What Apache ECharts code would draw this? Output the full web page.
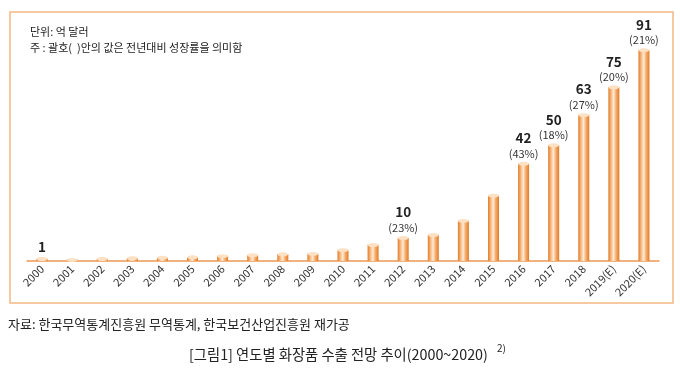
<!DOCTYPE html>
<html><head><meta charset="utf-8">
<script src="https://cdn.jsdelivr.net/npm/echarts@6/dist/echarts.min.js"></script>
<style>html,body{margin:0;padding:0;background:#fff}#c{width:680px;height:375px}</style>
</head><body><div id="c"></div>
<script>
const categories = ['2000','2001','2002','2003','2004','2005','2006','2007','2008','2009','2010','2011','2012','2013','2014','2015','2016','2017','2018','2019(E)','2020(E)'];
const exportValues = [1, 0.6, 1.0, 1.3, 1.5, 1.7, 2.2, 2.6, 3.0, 3.2, 4.8, 7, 10, 11.3, 17.4, 28.3, 42, 50, 63, 75, 91];
const valueLabels = ['1','','','','','','','','','','','','10','','','','42','50','63','75','91'];
const growthLabels = ['','','','','','','','','','','','','(23%)','','','','(43%)','(18%)','(27%)','(20%)','(21%)'];
const unitNote = '단위: 억 달러';
const bracketNote = '주 : 괄호(  )안의 값은 전년대비 성장률을 의미함';
const sourceNote = '자료: 한국무역통계진흥원 무역통계, 한국보건산업진흥원 재가공';
const figTitle = '[그림1] 연도별 화장품 수출 전망 추이(2000~2020)';

const FONT = '"Noto Sans CJK KR", "Noto Sans", sans-serif';
const chart = echarts.init(document.getElementById('c'), null, {renderer:'canvas'});
const barGrad = new echarts.graphic.LinearGradient(0,0,1,0,[
  {offset:0,color:'#E27A25'},{offset:0.3,color:'#F9C493'},{offset:0.48,color:'#FFEBD8'},{offset:0.7,color:'#F5AE6E'},{offset:1,color:'#E27A25'}
]);
chart.setOption({
  animation:false,
  grid:{left:27,right:21,top:29,bottom:114},
  xAxis:{type:'category',data:categories,
    axisLine:{lineStyle:{color:'#EC9A55',width:1.5}},
    axisTick:{show:false},
    axisLabel:{rotate:45,fontSize:11,color:'#333',fontFamily:FONT,margin:6,interval:0}},
  yAxis:{type:'value',min:0,max:100,show:false,splitLine:{show:false}},
  graphic:[
    {type:'rect',shape:{x:10,y:12,width:663,height:291},style:{fill:'none',stroke:'#F3B884',lineWidth:1.5}},
    {type:'text',left:30,top:26,style:{text:unitNote,fontSize:11,fill:'#222',fontFamily:FONT}},
    {type:'text',left:30,top:42,style:{text:bracketNote,fontSize:11,fill:'#222',fontFamily:FONT}},
    {type:'text',left:8,top:318,style:{text:sourceNote,fontSize:13,fill:'#222',fontFamily:FONT}},
    {type:'text',left:189,top:347,style:{text:figTitle,fontSize:14.3,fill:'#222',fontFamily:FONT}},
    {type:'text',left:497,top:343,style:{text:'2)',fontSize:10,fill:'#222',fontFamily:FONT}}
  ],
  series:[
    {type:'bar',data:exportValues,barWidth:11,itemStyle:{color:barGrad},
      label:{show:true,position:'top',distance:3,
        formatter:p=>{const v=valueLabels[p.dataIndex],g=growthLabels[p.dataIndex];
          if(!v) return ''; return g?('{v|'+v+'}\n{p|'+g+'}'):('{v|'+v+'}');},
        rich:{v:{fontSize:13.5,fontWeight:'bold',color:'#222',fontFamily:FONT,lineHeight:17},
              p:{fontSize:11,color:'#333',fontFamily:FONT,lineHeight:14}}}},
    {type:'pictorialBar',data:exportValues,symbol:'circle',symbolSize:[11,4],symbolPosition:'end',
      symbolOffset:[0,'-50%'],z:3,itemStyle:{color:'#FDE1C4',borderColor:'#E27A25',borderWidth:1}}
  ]
});
</script></body></html>
